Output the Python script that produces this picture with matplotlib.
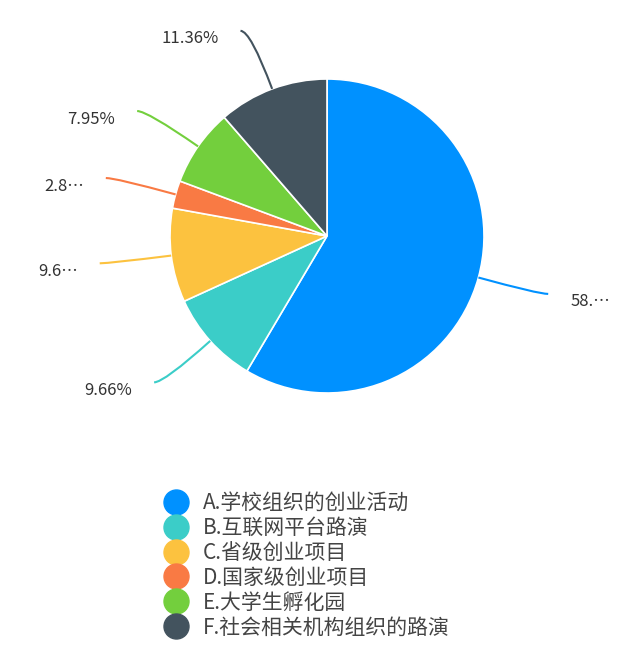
import numpy as np
import matplotlib
matplotlib.use('Agg')
import matplotlib.pyplot as plt
from matplotlib.lines import Line2D
from matplotlib.path import Path
from matplotlib.patches import PathPatch

plt.rcParams['font.family'] = ['Noto Sans CJK SC', 'DejaVu Sans']

# dane wykresu
kategorie = ['A.学校组织的创业活动', 'B.互联网平台路演', 'C.省级创业项目',
             'D.国家级创业项目', 'E.大学生孵化园', 'F.社会相关机构组织的路演']
wartosci = [58.52, 9.66, 9.66, 2.85, 7.95, 11.36]
etykiety = ['58.⋯', '9.66%', '9.6⋯', '2.8⋯', '7.95%', '11.36%']
kolory = ['#0091FF', '#3BCDC8', '#FCC23F', '#F97A44', '#73CF3D', '#43535E']

W, H = 640, 651
srodek = (327, H - 236)
promien = 157
dl1, dl2 = 62, 10  # dlugosci linii prowadzacych

fig = plt.figure(figsize=(W / 100, H / 100), dpi=100)
ax = fig.add_axes([0, 0, 1, 1])

kliny, _ = ax.pie(wartosci, colors=kolory, startangle=90, counterclock=False,
                  center=srodek, radius=promien,
                  wedgeprops=dict(edgecolor='white', linewidth=1.2))

# linie prowadzace i etykiety procentowe
for klin, kolor, tekst in zip(kliny, kolory, etykiety):
    kat = np.deg2rad((klin.theta1 + klin.theta2) / 2)
    kier = np.array([np.cos(kat), np.sin(kat)])
    p0 = np.array(srodek) + promien * kier
    p1 = np.array(srodek) + (promien + dl1) * kier
    strona = 1 if kier[0] >= 0 else -1
    p2 = p1 + np.array([strona * dl2, 0])
    sciezka = Path([p0, p1, p2], [Path.MOVETO, Path.CURVE3, Path.CURVE3])
    ax.add_patch(PathPatch(sciezka, facecolor='none', edgecolor=kolor, lw=1.5))
    ax.text(p2[0] + strona * 22, p2[1] - 8, tekst, fontsize=12, color='#333333',
            ha='left' if strona > 0 else 'right', va='center')

uchwyty = [Line2D([], [], marker='o', linestyle='none', markersize=18,
                  markerfacecolor=k, markeredgecolor=k) for k in kolory]
ax.legend(uchwyty, kategorie, loc='upper left', bbox_to_anchor=(165.5 / W, 1 - 492 / H),
          frameon=False, fontsize=15, handlelength=1.0, handletextpad=0.8,
          labelspacing=0.14, borderpad=0, borderaxespad=0, labelcolor='#444444')

ax.set_xlim(0, W)
ax.set_ylim(0, H)
ax.set_aspect('equal')
ax.axis('off')

fig.savefig('out.png', dpi=100, facecolor='white')
